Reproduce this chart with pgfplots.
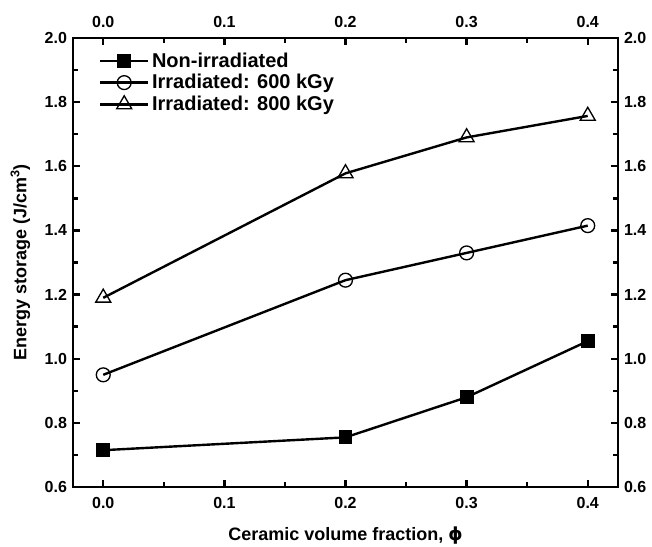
\documentclass[border=0pt]{standalone}
\usepackage{amsmath}
\usepackage{pgfplots}
\pgfplotsset{compat=1.18}
\usepackage{fontspec}
\setmainfont{Liberation Sans}
\newfontfamily\dejavu{DejaVu Sans}
\begin{document}
\begin{tikzpicture}
\begin{axis}[
  scale only axis,
  width=409pt, height=337pt,
  xmin=-0.025, xmax=0.425, ymin=0.6, ymax=2.0,
  xtick={0,0.1,0.2,0.3,0.4}, ytick={0.6,0.8,...,2.0},
  minor x tick num=1, minor y tick num=1,
  tick align=inside,
  major tick length=5pt, minor tick length=3.5pt,
  every tick/.style={line width=1.8pt, black},
  axis line style={line width=1.8pt},
  xticklabel pos=lower,
  xticklabel style={/pgf/number format/fixed, /pgf/number format/fixed zerofill, /pgf/number format/precision=1, yshift=-4pt},
  yticklabel style={/pgf/number format/fixed, /pgf/number format/fixed zerofill, /pgf/number format/precision=1, xshift=-1pt},
  /pgf/number format/assume math mode=true,
  tick label style={font=\fontsize{12pt}{14pt}\selectfont\bfseries},
  xlabel={Ceramic volume fraction, {\dejavu\bfseries ϕ}},
  ylabel={Energy storage (J/cm$^{\text{\bfseries 3}}$)},
  label style={font=\fontsize{13.5pt}{15pt}\selectfont\bfseries},
  xlabel style={yshift=-7pt},
  ylabel style={yshift=4pt},
  legend style={draw=none, fill=none, at={(0.04,0.98)}, anchor=north west,
    font=\fontsize{15pt}{17pt}\selectfont\bfseries, row sep=0pt,
    /tikz/every even column/.append style={column sep=2pt}},
  legend cell align=left,
  legend image code/.code={\draw[#1,mark repeat=2,mark phase=2] plot coordinates {(0pt,0pt) (18pt,0pt) (36pt,0pt)};},
  clip=false,
]
\addplot[black, line width=1.8pt, mark=square*, mark size=4.8pt, mark options={solid, fill=black, line width=0.8pt}]
  coordinates {(0,0.715) (0.2,0.755) (0.3,0.88) (0.4,1.055)};
\addlegendentry{Non-irradiated}
\addplot[black, line width=1.8pt, mark=o, mark size=5.2pt, mark options={solid, fill=white, line width=1pt}]
  coordinates {(0,0.95) (0.2,1.245) (0.3,1.33) (0.4,1.415)};
\addlegendentry{Irradiated: 600 kGy}
\addplot[black, line width=1.8pt, mark=triangle, mark size=6.5pt, mark options={solid, fill=white, line width=1pt}]
  coordinates {(0,1.19) (0.2,1.578) (0.3,1.69) (0.4,1.757)};
\addlegendentry{Irradiated: 800 kGy}
\end{axis}
\begin{axis}[
  scale only axis,
  width=409pt, height=337pt,
  xmin=-0.025, xmax=0.425, ymin=0.6, ymax=2.0,
  xtick={0,0.1,0.2,0.3,0.4}, ytick={0.6,0.8,...,2.0},
  axis x line*=top, axis y line*=right,
  tick align=inside,
  major tick length=5pt,
  every tick/.style={line width=1.8pt, black},
  axis line style={line width=1.8pt},
  xticklabel style={/pgf/number format/fixed, /pgf/number format/fixed zerofill, /pgf/number format/precision=1, yshift=4pt},
  yticklabel style={/pgf/number format/fixed, /pgf/number format/fixed zerofill, /pgf/number format/precision=1, xshift=1pt},
  /pgf/number format/assume math mode=true,
  tick label style={font=\fontsize{12pt}{14pt}\selectfont\bfseries},
  minor x tick num=1, minor y tick num=1,
  minor tick length=3.5pt,
]
\addplot[draw=none] coordinates {(0,1)};
\end{axis}
\pgfresetboundingbox
\path[use as bounding box] (current axis.south west) ++(-54.75pt,-44.25pt) rectangle ([shift={(25.5pt,28.5pt)}]current axis.north east);
\end{tikzpicture}
\end{document}
